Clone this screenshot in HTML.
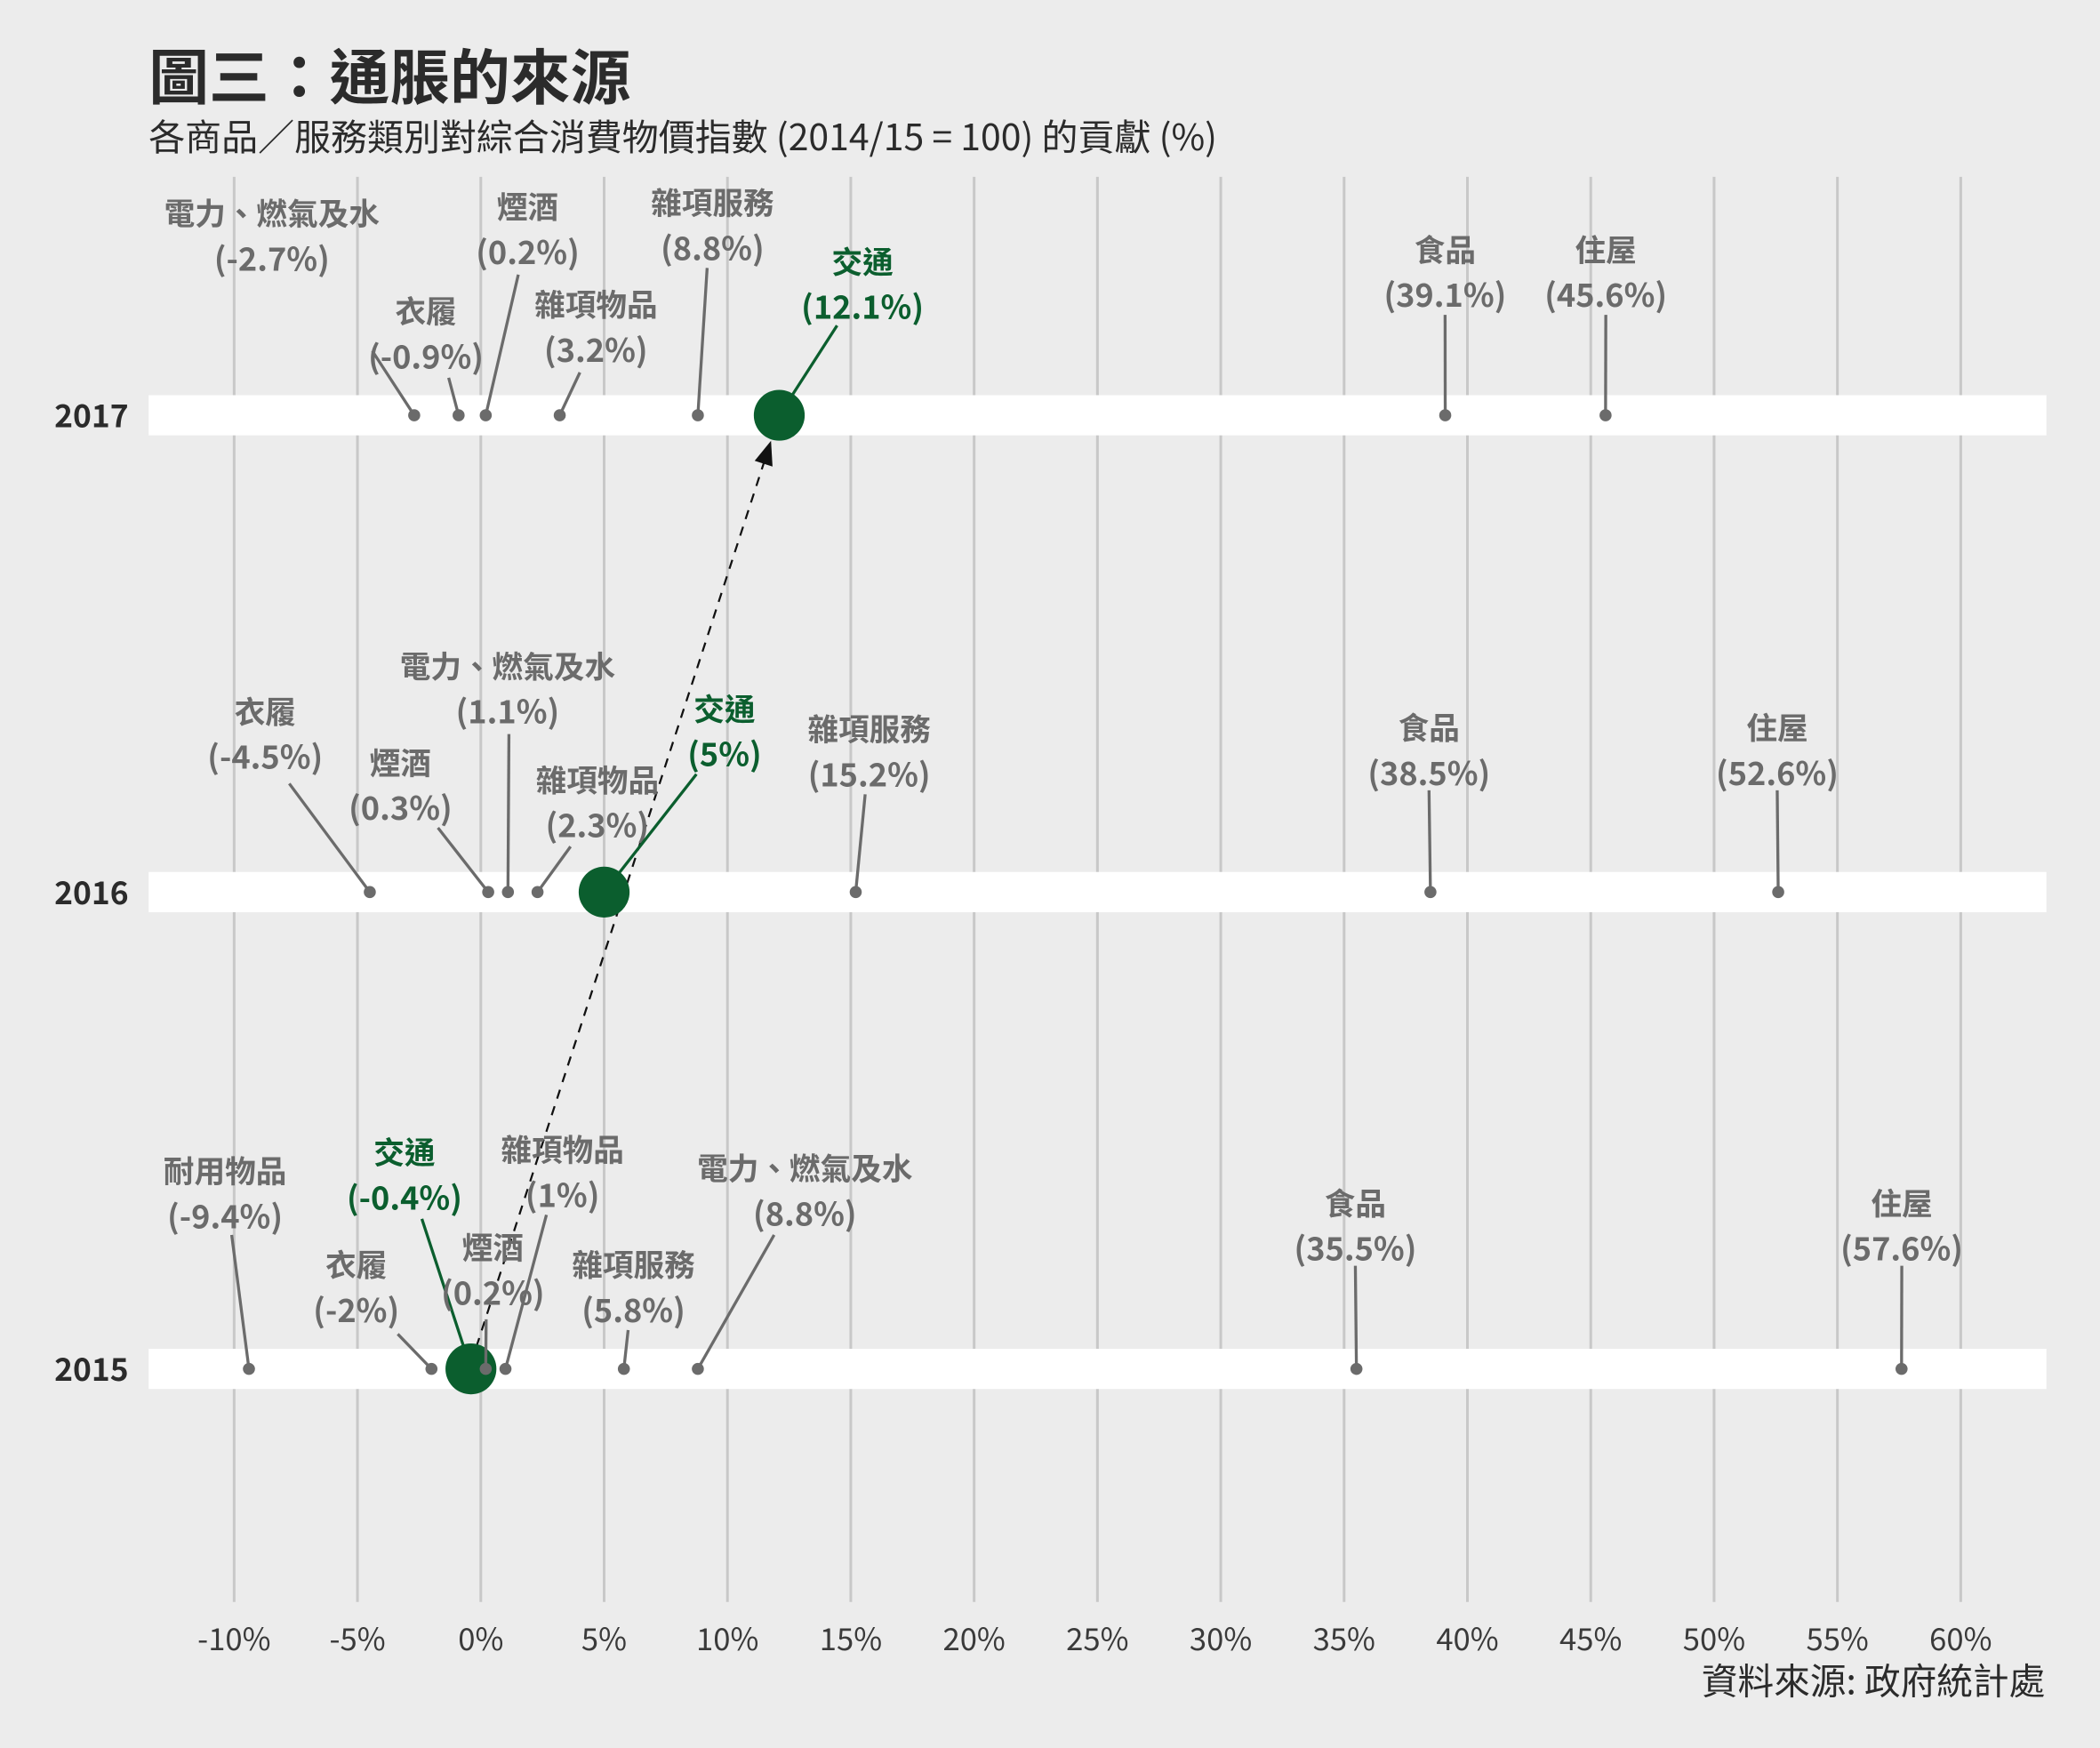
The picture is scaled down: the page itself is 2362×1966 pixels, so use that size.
<!DOCTYPE html>
<html><head><meta charset="utf-8">
<style>
html,body{margin:0;padding:0;background:#ececec;}
svg{display:block;font-family:"Noto Sans CJK TC","Liberation Sans",sans-serif;}
</style></head>
<body>
<svg id="chart" width="2362" height="1966" viewBox="0 0 1568 1305" xmlns="http://www.w3.org/2000/svg">
<rect x="0" y="0" width="1568" height="1305" fill="#ececec"/>
<text x="111" y="74" font-size="45" font-weight="bold" fill="#2b2b2b">圖三：通脹的來源</text>
<text x="111" y="112" font-size="27.2" fill="#2b2b2b">各商品／服務類別對綜合消費物價指數 (2014/15 = 100) 的貢獻 (%)</text>
<text x="1527" y="1265" font-size="27" fill="#2b2b2b" text-anchor="end">資料來源: 政府統計處</text>
<g id="grid"></g>
<g id="bands"></g>
<g id="marks"></g>
</svg>
<script>
const xTicks = [-10,-5,0,5,10,15,20,25,30,35,40,45,50,55,60];
const years = ['2017','2016','2015'];
const names2017 = ['電力、燃氣及水','衣履','煙酒','雜項物品','雜項服務','交通','食品','住屋'];
const values2017 = [-2.7,-0.9,0.2,3.2,8.8,12.1,39.1,45.6];
const labels2017 = ['-2.7%','-0.9%','0.2%','3.2%','8.8%','12.1%','39.1%','45.6%'];
const names2016 = ['衣履','煙酒','電力、燃氣及水','雜項物品','交通','雜項服務','食品','住屋'];
const values2016 = [-4.5,0.3,1.1,2.3,5,15.2,38.5,52.6];
const labels2016 = ['-4.5%','0.3%','1.1%','2.3%','5%','15.2%','38.5%','52.6%'];
const names2015 = ['耐用物品','交通','雜項物品','衣履','煙酒','雜項服務','電力、燃氣及水','食品','住屋'];
const values2015 = [-9.4,-0.4,1,-2,0.2,5.8,8.8,35.5,57.6];
const labels2015 = ['-9.4%','-0.4%','1%','-2%','0.2%','5.8%','8.8%','35.5%','57.6%'];
const highlight = '交通';

// layout (label anchor positions, not data)
const lay2017 = [[203,160,278,262],[318,233,335,282],[394,155,387,205],[445,228,433,278],[532,152,528,200],[644,196,625,243],[1079,187,1079,235],[1199,187,1199,235]];
const lay2016 = [[198,532,216,585],[299,570,327,618],[379,498,380,548],[446,583,426,632],[541,530,520,578],[649,545,646,593],[1067,544,1067,590],[1327,544,1327,590]];
const lay2015 = [[168,875,173,922],[302,861,315,910],[420,859,408,907],[266,945,297,996],[368,932,363,985],[473,945,469,993],[601,873,578,922],[1012,899,1012,945],[1420,899,1420,945]];

const NS='http://www.w3.org/2000/svg';
const x = v => 359 + v*18.417;
const yRow = {'2017':310,'2016':666,'2015':1022};
function mk(tag, attrs, parent){const e=document.createElementNS(NS,tag);for(const k in attrs)e.setAttribute(k,attrs[k]);parent.appendChild(e);return e;}
const grid=document.getElementById('grid'), bands=document.getElementById('bands'), marks=document.getElementById('marks');

xTicks.forEach(t=>{
  const l=mk('line',{x1:x(t),x2:x(t),y1:132,y2:1196,stroke:'#c8c8c8','stroke-width':2},grid);
  
  
  const tx=mk('text',{x:x(t),y:1232,'font-size':23,fill:'#3a3a3a','text-anchor':'middle'},grid);
  tx.textContent=t+'%';
  
  
});
years.forEach(yr=>{
  const b=mk('rect',{x:111,y:yRow[yr]-15,width:1417,height:30,fill:'#ffffff'},bands);
  
  
  const t=mk('text',{x:96,y:yRow[yr]+9,'font-size':23.5,'font-weight':'bold',fill:'#2b2b2b','text-anchor':'end'},bands);
  t.textContent=yr;
  
  
});

const i15=names2015.indexOf(highlight), i17=names2017.indexOf(highlight);
const ax1=x(values2015[i15]), ay1=yRow['2015'], ax2=x(values2017[i17]), ay2=yRow['2017'];
const dx=ax2-ax1, dy=ay2-ay1, len=Math.hypot(dx,dy), ux=dx/len, uy=dy/len;
const ex=ax2-ux*20, ey=ay2-uy*20;
const dl=mk('line',{x1:ax1,y1:ay1-4,x2:ex-ux*10,y2:ey-uy*10,stroke:'#111','stroke-width':1.5,'stroke-dasharray':'7,6'},marks);



function drawRow(yr,names,vals,labs,lay){
  names.forEach((n,i)=>{
    const px=x(vals[i]), py=yRow[yr], hl=n===highlight;
    const col=hl?'#0b5e2e':'#6b6b6b';
    const L=lay[i];
    const ln=mk('line',{x1:L[2],y1:L[3],x2:px,y2:py,stroke:col,'stroke-width':2.2},marks);
    
    
    const c=mk('circle',{cx:px,cy:py,r:hl?19:4.5,fill:col},marks);
    
    
    const t1=mk('text',{x:L[0],y:L[1]+8,'font-size':23,'font-weight':'bold',fill:col,'text-anchor':'middle'},marks);
    t1.textContent=n;
    
    
    const t2=mk('text',{x:L[0],y:L[1]+42,'font-size':24,'font-weight':'bold',fill:col,'text-anchor':'middle'},marks);
    t2.textContent='('+labs[i]+')';
    
    
  });
}
drawRow('2017',names2017,values2017,labels2017,lay2017);
drawRow('2016',names2016,values2016,labels2016,lay2016);
drawRow('2015',names2015,values2015,labels2015,lay2015);

const ah=mk('polygon',{points:`${ex},${ey} ${ex-ux*18-uy*7},${ey-uy*18+ux*7} ${ex-ux*18+uy*7},${ey-uy*18-ux*7}`,fill:'#111'},marks);


</script>
</body></html>
